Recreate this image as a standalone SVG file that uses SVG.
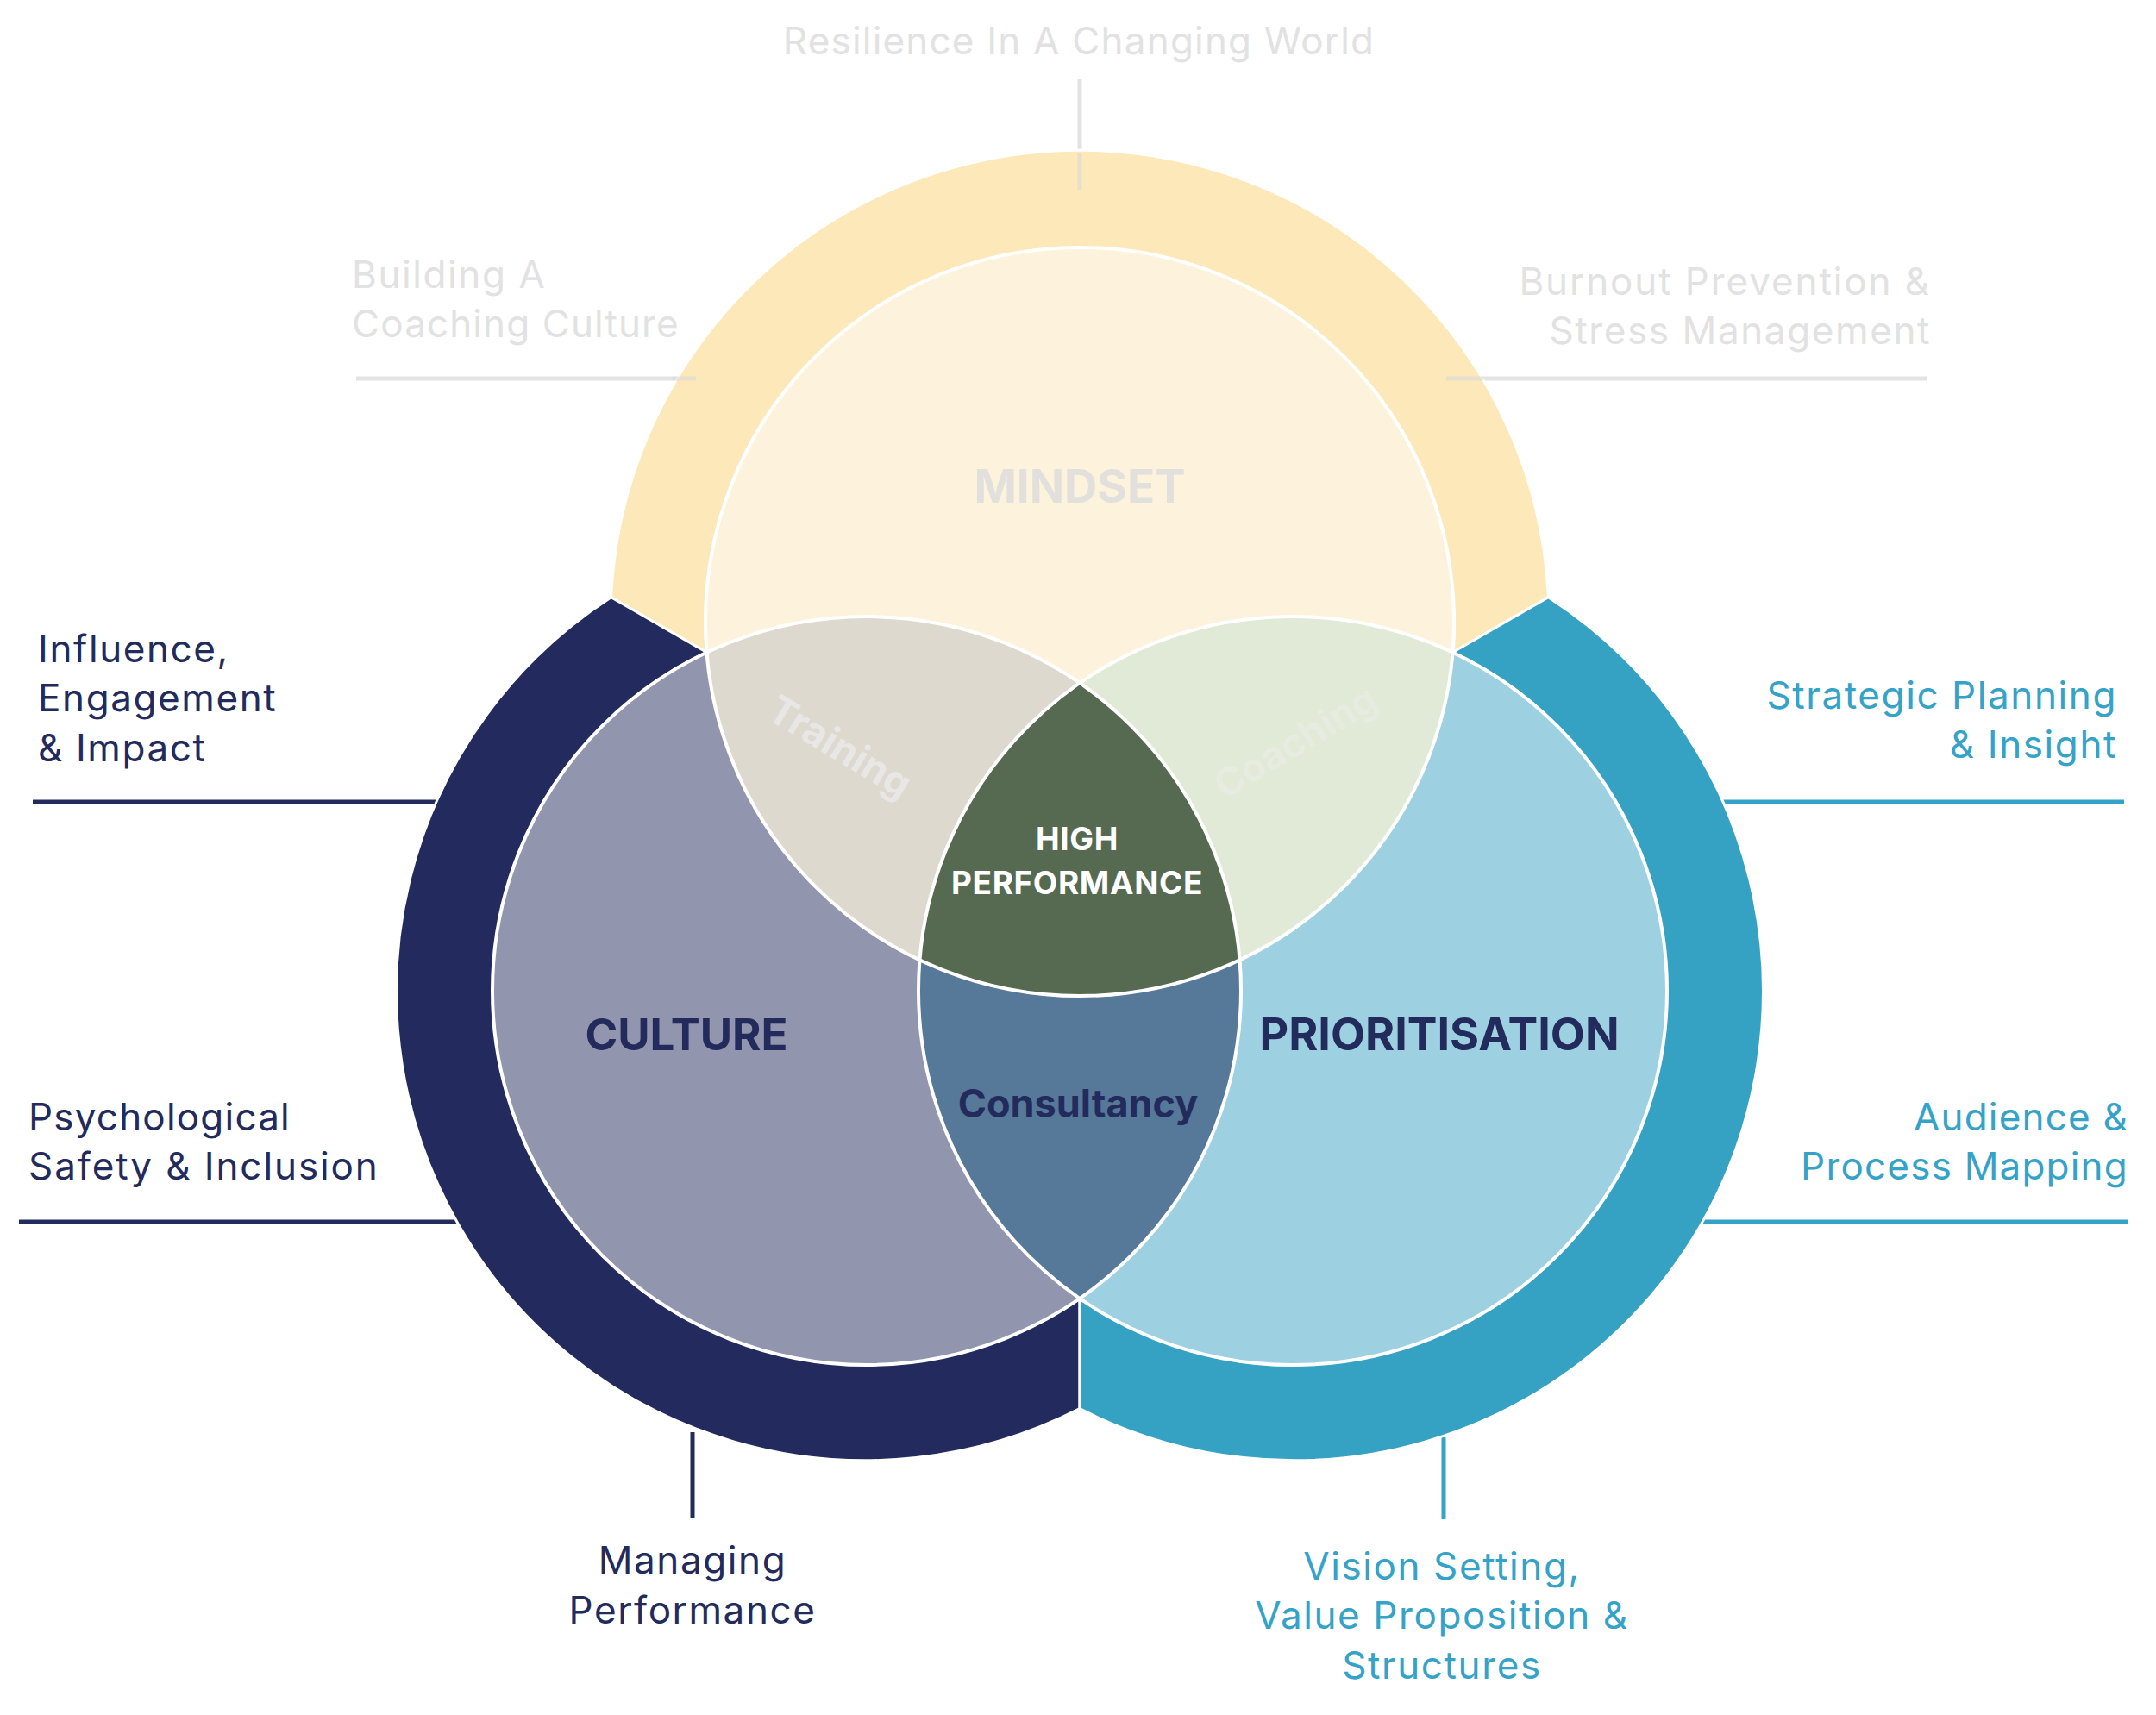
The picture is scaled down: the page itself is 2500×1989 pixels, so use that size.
<svg xmlns="http://www.w3.org/2000/svg" width="2500" height="1989" viewBox="0 0 2500 1989">
<style>
.ring{stroke:#fff;stroke-width:3}
.lbl{font-family:Inter,"Noto Sans","Liberation Sans",sans-serif;font-size:44px;letter-spacing:1.6px}
.navy{fill:#232B5C}
.teal{fill:#35A3C7}
.gray{fill:#E2E2E2}
.bold{font-family:Inter,"Noto Sans","Liberation Sans",sans-serif;font-weight:700;text-anchor:middle}
.sep{fill:none;stroke:#fff;stroke-width:4}
</style>
<rect width="2500" height="1989" fill="#fff"/>
<g id="connectors">
<line x1="1252" y1="92" x2="1252" y2="220" stroke="#D9D9D9" stroke-opacity="0.75" stroke-width="5"/>
<line x1="413" y1="439" x2="807" y2="439" stroke="#D9D9D9" stroke-opacity="0.75" stroke-width="5"/>
<line x1="1677" y1="439" x2="2235" y2="439" stroke="#D9D9D9" stroke-opacity="0.75" stroke-width="5"/>
<line x1="38" y1="930" x2="510" y2="930" stroke="#232B5C" stroke-width="5"/>
<line x1="22" y1="1417" x2="535" y2="1417" stroke="#232B5C" stroke-width="5"/>
<line x1="1995" y1="930" x2="2463" y2="930" stroke="#35A3C7" stroke-width="5"/>
<line x1="1970" y1="1417" x2="2468" y2="1417" stroke="#35A3C7" stroke-width="5"/>
<line x1="803" y1="1661" x2="803" y2="1761" stroke="#232B5C" stroke-width="5"/>
<line x1="1674" y1="1667" x2="1674" y2="1762" stroke="#35A3C7" stroke-width="5"/>
</g>
<g id="ring-mindset"><path class="ring" fill="#FDE8B9" d="M 708.6,692.65 A 544 544 0 0 1 1795.4,692.65 L 1684.7,756.55 A 434 434 0 1 0 819.3,756.55 Z"/></g>
<g id="ring-culture"><path class="ring" fill="#232B5E" d="M 708.6,692.65 A 544 544 0 0 0 1252,1633.7 L 1252,1505.9 A 434 434 0 1 1 819.3,756.55 Z"/></g>
<g id="ring-prioritisation"><path class="ring" fill="#35A2C4" d="M 1795.4,692.65 A 544 544 0 0 1 1252,1633.7 L 1252,1505.9 A 434 434 0 1 0 1684.7,756.55 Z"/></g>
<g id="connectors-over">
<line x1="1252" y1="177" x2="1252" y2="220" stroke="#D9D9D9" stroke-opacity="0.6" stroke-width="5"/>
<line x1="780" y1="439" x2="807" y2="439" stroke="#D9D9D9" stroke-opacity="0.6" stroke-width="5"/>
<line x1="1677" y1="439" x2="1720" y2="439" stroke="#D9D9D9" stroke-opacity="0.6" stroke-width="5"/>
</g>
<g id="mindset"><circle cx="1252" cy="721" r="434" fill="#FDF2DB"/></g>
<g id="culture"><circle cx="1005" cy="1149" r="434" fill="#9195AE"/></g>
<g id="prioritisation"><circle cx="1499" cy="1149" r="434" fill="#9DD0E1"/></g>
<g id="training"><path fill="#DDD9CE" d="M 819.3,756.55 A 434 434 0 0 1 1252,792.1 A 434 434 0 0 0 1066.3,1113.45 A 434 434 0 0 1 819.3,756.55 Z"/></g>
<g id="coaching"><path fill="#E1E9D7" d="M 1684.7,756.55 A 434 434 0 0 0 1252,792.1 A 434 434 0 0 1 1437.7,1113.45 A 434 434 0 0 0 1684.7,756.55 Z"/></g>
<g id="consultancy"><path fill="#567899" d="M 1066.3,1113.45 A 434 434 0 0 0 1437.7,1113.45 A 434 434 0 0 1 1252,1505.9 A 434 434 0 0 1 1066.3,1113.45 Z"/></g>
<g id="high-performance"><path fill="#566A52" d="M 1252,792.1 A 434 434 0 0 1 1437.7,1113.45 A 434 434 0 0 1 1066.3,1113.45 A 434 434 0 0 1 1252,792.1 Z"/></g>
<g id="outlines">
<circle class="sep" cx="1252" cy="721" r="434"/>
<circle class="sep" cx="1005" cy="1149" r="434"/>
<circle class="sep" cx="1499" cy="1149" r="434"/>
</g>
<g id="region-texts">
<text class="bold" x="1252" y="583" font-size="53" fill="#E2E0DC">MINDSET</text>
<text class="bold" x="796" y="1218" font-size="51" fill="#232B5C">CULTURE</text>
<text class="bold" x="1669" y="1218" font-size="52" fill="#232B5C">PRIORITISATION</text>
<text class="bold" font-size="46" fill="#E8E7E5" transform="translate(974,866) rotate(31)" y="16">Training</text>
<text class="bold" font-size="45" fill="#E6ECE0" transform="translate(1502,860) rotate(-31)" y="16">Coaching</text>
<text class="bold" x="1249" y="986" font-size="37" fill="#fff" style="letter-spacing:0.6px">HIGH</text>
<text class="bold" x="1249" y="1037" font-size="37" fill="#fff" style="letter-spacing:0.6px">PERFORMANCE</text>
<text class="bold" x="1250" y="1296" font-size="45" fill="#232B5C">Consultancy</text>
</g>
<g id="label-resilience"><text class="lbl gray" x="1251" y="63" text-anchor="middle" style="letter-spacing:1.2px">Resilience In A Changing World</text></g>
<g id="label-coaching-culture"><text class="lbl gray" x="408" y="334">Building A</text><text class="lbl gray" x="408" y="391" style="letter-spacing:1.1px">Coaching Culture</text></g>
<g id="label-burnout"><text class="lbl gray" text-anchor="end" x="2239" y="342" style="letter-spacing:1.9px">Burnout Prevention &amp;</text><text class="lbl gray" text-anchor="end" x="2239" y="399">Stress Management</text></g>
<g id="label-influence"><text class="lbl navy" x="44" y="768">Influence,</text><text class="lbl navy" x="44" y="825">Engagement</text><text class="lbl navy" x="44" y="883">&amp; Impact</text></g>
<g id="label-psych"><text class="lbl navy" x="33" y="1311" style="letter-spacing:1.2px">Psychological</text><text class="lbl navy" x="33" y="1368" style="letter-spacing:1.9px">Safety &amp; Inclusion</text></g>
<g id="label-strategic"><text class="lbl teal" text-anchor="end" x="2455" y="822">Strategic Planning</text><text class="lbl teal" text-anchor="end" x="2455" y="879">&amp; Insight</text></g>
<g id="label-audience"><text class="lbl teal" text-anchor="end" x="2468" y="1311" style="letter-spacing:1.2px">Audience &amp;</text><text class="lbl teal" text-anchor="end" x="2468" y="1368" style="letter-spacing:1.2px">Process Mapping</text></g>
<g id="label-managing"><text class="lbl navy" x="803" y="1825" text-anchor="middle">Managing</text><text class="lbl navy" x="803" y="1883" text-anchor="middle">Performance</text></g>
<g id="label-vision"><text class="lbl teal" x="1672" y="1832" text-anchor="middle">Vision Setting,</text><text class="lbl teal" x="1672" y="1889" text-anchor="middle">Value Proposition &amp;</text><text class="lbl teal" x="1672" y="1947" text-anchor="middle">Structures</text></g>
</svg>
